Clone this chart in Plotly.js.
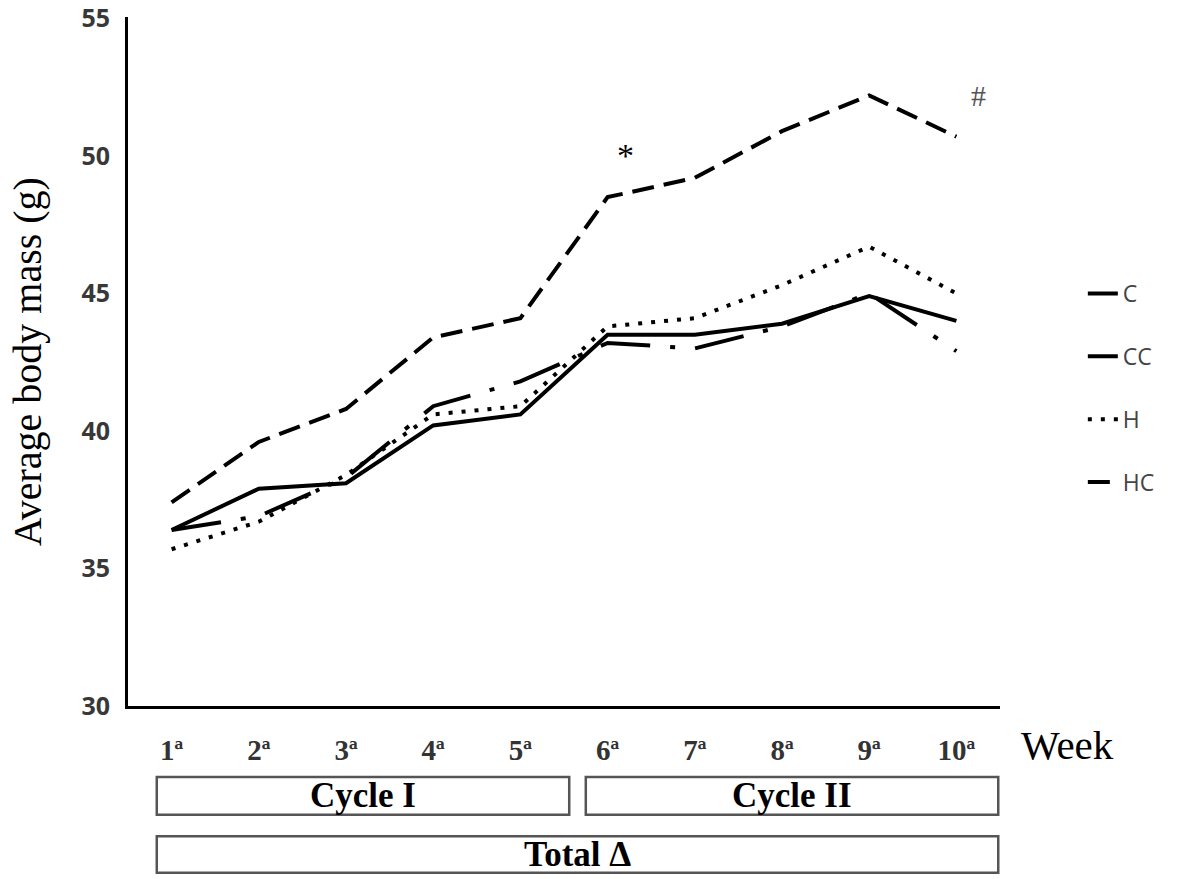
<!DOCTYPE html>
<html>
<head>
<meta charset="utf-8">
<script src="https://cdn.plot.ly/plotly-3.0.1.min.js"></script>
<style>
  body { margin: 0; background: #fff; }
  #chart { width: 1200px; height: 879px; }
</style>
</head>
<body>
<div id="chart"></div>
<script>
// semanas e massa corporal media (g) de cada grupo
let weeks = ['1ª', '2ª', '3ª', '4ª', '5ª', '6ª', '7ª', '8ª', '9ª', '10ª'];

let massC  = [36.4, 36.9, 38.3, 40.9, 41.8, 43.2, 43.0, 43.8, 45.0, 42.9];
let massCC = [36.4, 37.9, 38.1, 40.2, 40.6, 43.5, 43.5, 43.9, 44.9, 44.0];
let massH  = [35.7, 36.7, 38.4, 40.6, 40.9, 43.8, 44.1, 45.3, 46.7, 45.0];
let massHC = [37.4, 39.6, 40.8, 43.4, 44.1, 48.5, 49.2, 50.9, 52.2, 50.7];

let groupNames = ['C', 'CC', 'H', 'HC'];
let groupDash = ['50px,20px,5px,20px', 'solid', '4px,9px', '22px,10px'];
let groupMass = [massC, massCC, massH, massHC];

let serif = '"Liberation Serif", "Times New Roman", serif';
let sans = '"Open Sans", "DejaVu Sans", sans-serif';

let data = [];
for (let i = 0; i < groupNames.length; i++) {
    data.push({
        x: weeks,
        y: groupMass[i],
        mode: 'lines',
        name: groupNames[i],
        legendgroup: groupNames[i],
        line: {
            color: '#000',
            width: 4,
            dash: groupDash[i],
        }
    });
}

// caixas dos ciclos abaixo do eixo x
function box(x0, x1, y0, y1) {
    return {
        type: 'rect', xref: 'paper', yref: 'paper',
        x0: x0, x1: x1, y0: y0, y1: y1,
        line: { color: '#555', width: 2.5 },
        fillcolor: 'rgba(0,0,0,0)'
    };
}

function label(x, y, text, size, color, xanchor) {
    return {
        x: x, y: y, xref: 'paper', yref: 'paper',
        xanchor: xanchor || 'center', yanchor: 'middle',
        text: text, showarrow: false,
        font: { family: serif, size: size, color: color }
    };
}

// titulo do eixo y como anotacao para ficar mais perto da borda
let yTitle = label(-0.115, 0.5, 'Average body mass (g)', 40, '#000');
yTitle.textangle = -90;

var layout = {
    width: 1200,
    height: 879,
    margin: { l: 128, r: 200, t: 17, b: 173 },
    paper_bgcolor: '#fff',
    plot_bgcolor: '#fff',
    showlegend: true,
    legend: {
        x: 1.095, y: 0.63, xanchor: 'left', yanchor: 'top',
        font: { family: sans, size: 23, color: '#444' },
        tracegroupgap: 30,
        bgcolor: 'rgba(0,0,0,0)'
    },
    xaxis: {
        type: 'category',
        range: [-0.5, 9.5],
        showline: true,
        linecolor: '#000',
        linewidth: 3,
        showgrid: false,
        zeroline: false,
        ticks: '',
        ticklabelstandoff: 16,
        tickfont: { family: serif, size: 29, color: '#333', weight: 'bold' }
    },
    yaxis: {
        range: [30, 55.05],
        dtick: 5,
        showline: true,
        linecolor: '#000',
        linewidth: 3,
        showgrid: false,
        zeroline: false,
        ticks: '',
        ticklabeloverflow: 'allow',
        ticklabelstandoff: 10,
        tickfont: { family: sans, size: 25, color: '#383838', weight: 'bold' }
    },
    shapes: [
        box(0.033, 0.506, -0.103, -0.158),
        box(0.525, 0.998, -0.103, -0.158),
        box(0.033, 0.998, -0.189, -0.242)
    ],
    annotations: [
        { x: 5.2, y: 50.0, xref: 'x', yref: 'y', text: '*', showarrow: false,
          font: { family: serif, size: 34, color: '#000' } },
        { x: 9.25, y: 52.2, xref: 'x', yref: 'y', text: '#', showarrow: false,
          font: { family: serif, size: 30, color: '#555' } },
        yTitle,
        label(1.022, -0.057, 'Week', 41, '#000', 'left'),
        label(0.2695, -0.1305, '<b>Cycle I</b>', 35, '#000'),
        label(0.7615, -0.1305, '<b>Cycle II</b>', 35, '#000'),
        label(0.5155, -0.216, '<b>Total Δ</b>', 35, '#000')
    ]
};

Plotly.newPlot('chart', data, layout, { displayModeBar: false, staticPlot: true });
</script>
</body>
</html>
